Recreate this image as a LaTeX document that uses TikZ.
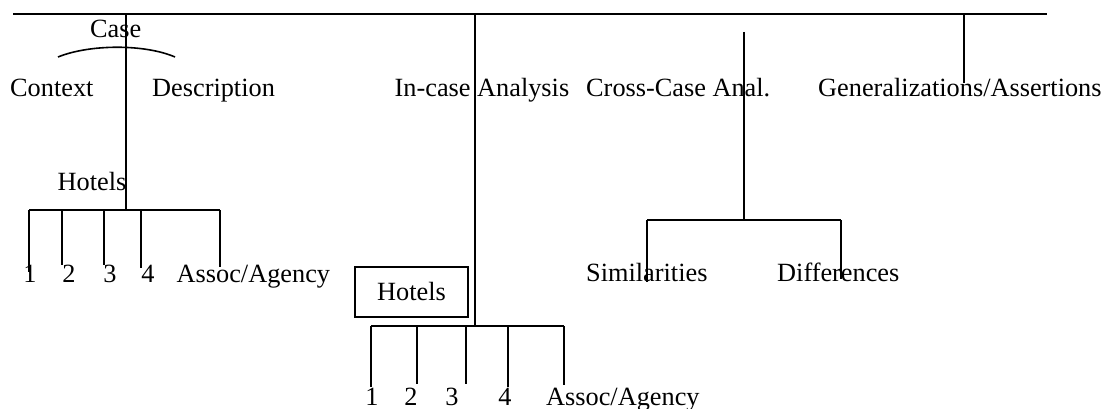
\documentclass[tikz,border=0pt]{standalone}
\usepackage{fontspec}
\setmainfont{Liberation Serif}
\begin{document}
\begin{tikzpicture}[x=1pt,y=-1pt,
  lbl/.style={inner sep=0pt, font=\fontsize{26.3}{30}\selectfont},
  lbw/.style={lbl, anchor=base west},
  lbc/.style={lbl, anchor=base},
  ln/.style={line width=1.6pt},
  boxnode/.style={lbl, draw, line width=1.6pt, minimum width=113pt, minimum height=50pt}]
\useasboundingbox (0,0) rectangle (1106,409);
% text nodes
\node[lbw] (case) at (90,38) {Case};
\node[lbw] (context) at (10,97) {Context};
\node[lbw] (desc) at (152,97) {Description};
\node[lbw] (hotelsL) at (57.5,190) {Hotels};
\node[lbc] (nL1) at (30,282) {1};
\node[lbc] (nL2) at (69,282) {2};
\node[lbc] (nL3) at (110,282) {3};
\node[lbc] (nL4) at (148,282) {4};
\node[lbw] (assocL) at (176.5,282) {Assoc/Agency};
\node[lbw] (incase) at (394.5,97) {In-case Analysis};
\node[lbw] (cross) at (586,97) {Cross-Case Anal.};
\node[lbw] (gen) at (818,97) {Generalizations/Assertions};
\node[lbw] (simil) at (586,281) {Similarities};
\node[lbw] (diff) at (777,281) {Differences};
\node[boxnode] (hotelsB) at (411.5,292) {Hotels};
\node[lbc] (nB1) at (372,405) {1};
\node[lbc] (nB2) at (411,405) {2};
\node[lbc] (nB3) at (452,405) {3};
\node[lbc] (nB4) at (505,405) {4};
\node[lbw] (assocB) at (546,405) {Assoc/Agency};
% coordinates
\coordinate (topL) at (13,14);
\coordinate (topR) at (1047,14);
\coordinate (jCase) at (126,14);
\coordinate (jIn) at (475,14);
\coordinate (jGen) at (964,14);
\coordinate (genEnd) at (964,83);
\coordinate (arcL) at (58,57);
\coordinate (arcR) at (175,57);
\coordinate (hL) at (126,210);
\coordinate (hLa) at (29,210);
\coordinate (hLb) at (220,210);
\coordinate (dL1) at (29,272);
\coordinate (dL2) at (62,265);
\coordinate (dL3) at (104,265);
\coordinate (dL4) at (141,268);
\coordinate (dL5) at (220,267);
\coordinate (hB) at (475,326);
\coordinate (hBa) at (371,326);
\coordinate (hBb) at (564,326);
\coordinate (dB1) at (371,387);
\coordinate (dB2) at (417,384);
\coordinate (dB3) at (466,384);
\coordinate (dB4) at (508,387);
\coordinate (dB5) at (564,385);
\coordinate (cTop) at (744,32);
\coordinate (cJ) at (744,220);
\coordinate (cA) at (647,220);
\coordinate (cB) at (841,220);
\coordinate (cAe) at (647,282);
\coordinate (cBe) at (841,279);
% lines
\draw[ln] (topL) -- (topR);
\draw[ln] (jCase) -- (hL);
\draw[ln] (arcL) .. controls (90,44) and (145,44) .. (arcR);
\draw[ln] (hLa) -- (hLb);
\draw[ln] (hLa) -- (dL1);
\draw[ln] (dL2 |- hL) -- (dL2);
\draw[ln] (dL3 |- hL) -- (dL3);
\draw[ln] (dL4 |- hL) -- (dL4);
\draw[ln] (hLb) -- (dL5);
\draw[ln] (jIn) -- (hB);
\draw[ln] (hBa) -- (hBb);
\draw[ln] (hBa) -- (dB1);
\draw[ln] (dB2 |- hB) -- (dB2);
\draw[ln] (dB3 |- hB) -- (dB3);
\draw[ln] (dB4 |- hB) -- (dB4);
\draw[ln] (hBb) -- (dB5);
\draw[ln] (cTop) -- (cJ);
\draw[ln] (cA) -- (cB);
\draw[ln] (cA) -- (cAe);
\draw[ln] (cB) -- (cBe);
\draw[ln] (jGen) -- (genEnd);
\end{tikzpicture}
\end{document}
